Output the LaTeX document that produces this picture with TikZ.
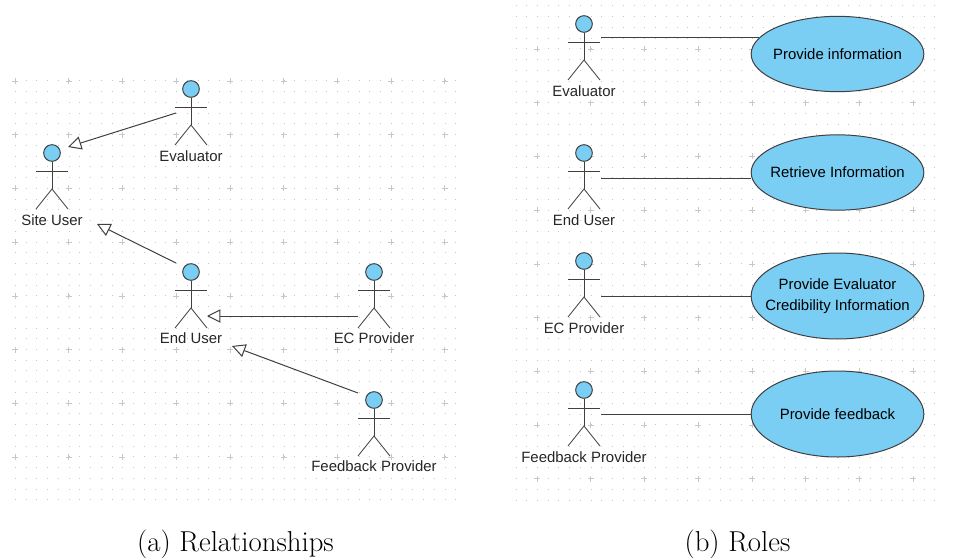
\documentclass[tikz,border=0pt]{standalone}
\usepackage{fontspec}
\setsansfont{Liberation Sans}
\usepackage{tikz}
\usetikzlibrary{positioning, arrows, arrows.meta, shapes.geometric}

\definecolor{fillblue}{HTML}{7ACEF4}
\definecolor{linegray}{HTML}{404040}
\definecolor{gridgray}{HTML}{C8C8C8}

\tikzset{
  gridline/.style={gridgray,line width=0.75pt,dash pattern=on 0.75pt off 7.305pt},
  gridplus/.style={gridgray,line width=0.45pt},
  usecase/.style={draw=linegray,fill=fillblue,ellipse,line width=0.75pt,minimum width=129.5pt,minimum height=64.5pt,inner xsep=-20pt,inner ysep=-10pt,align=center,font=\sffamily\fontsize{11.2}{15.3}\selectfont},
  actorlabel/.style={font=\sffamily\fontsize{11.2}{12}\selectfont,text=black!85},
  gen/.style={-{Triangle[open,fill=white,length=10pt,width=10pt]},linegray,line width=0.75pt},
  assoc/.style={linegray,line width=0.75pt},
  pics/actor/.style={code={
    \node[circle,draw=linegray,fill=fillblue,line width=0.75pt,minimum size=12.5pt,inner sep=0pt] (-head) at (0,0) {};
    \draw[linegray,line width=0.6pt] (-head.south) -- (0,36);
    \draw[linegray,line width=0.6pt] (-16,18) -- (16,18);
    \draw[linegray,line width=0.6pt] (-16,56) -- (0,36) -- (16,56);
  }}
}

\begin{document}
\begin{tikzpicture}[x=0.75pt,y=-0.75pt]
\useasboundingbox (0,0) rectangle (953,560);
% dotted background, left
\foreach \r in {0,...,39}
  \draw[gridline] (15,81+10.74*\r) -- (463,81+10.74*\r);
\foreach \i in {0,...,8}
  \foreach \j in {0,...,7}
    \draw[gridplus] (15+53.7*\i-3,81+53.7*\j) -- ++(6,0) (15+53.7*\i,81+53.7*\j-3) -- ++(0,6);
% dotted background, right
\foreach \r in {0,...,46}
  \draw[gridline] (515.5,6+10.74*\r) -- (945,6+10.74*\r);
\foreach \i in {0,...,7}
  \foreach \j in {0,...,8}
    \draw[gridplus] (537+53.7*\i-3,49+53.7*\j) -- ++(6,0) (537+53.7*\i,49+53.7*\j-3) -- ++(0,6);

% actors, left
\pic (evalL) at (191,89) {actor};
\pic (site) at (52,153) {actor};
\pic (endL) at (191,272) {actor};
\pic (ecL) at (374,272) {actor};
\pic (feedL) at (374,400) {actor};
\node[actorlabel] (evalLtxt) at (191,156) {Evaluator};
\node[actorlabel] (sitetxt) at (52,220) {Site User};
\node[actorlabel] (endLtxt) at (191,338) {End User};
\node[actorlabel] (ecLtxt) at (374,338) {EC Provider};
\node[actorlabel] (feedLtxt) at (374,466) {Feedback Provider};

% generalisations
\coordinate (evalLout) at (176,113);
\coordinate (siteinA) at (68,147);
\coordinate (endLout) at (176,263);
\coordinate (siteinB) at (97,224);
\coordinate (ecLout) at (358,316);
\coordinate (endinA) at (207,316);
\coordinate (feedLout) at (358,393);
\coordinate (endinB) at (232,346);
\draw[gen] (evalLout) -- (siteinA);
\draw[gen] (endLout) -- (siteinB);
\draw[gen] (ecLout) -- (endinA);
\draw[gen] (feedLout) -- (endinB);

% actors, right
\pic (evalR) at (584,24) {actor};
\pic (endR) at (584,153) {actor};
\pic (ecR) at (584,261) {actor};
\pic (feedR) at (584,390) {actor};
\node[actorlabel] (evalRtxt) at (584,91) {Evaluator};
\node[actorlabel] (endRtxt) at (584,220) {End User};
\node[actorlabel] (ecRtxt) at (584,328) {EC Provider};
\node[actorlabel] (feedRtxt) at (584,457) {Feedback Provider};

% use cases
\node[usecase,minimum height=56.5pt] (info) at (837.5,54) {Provide information};
\node[usecase,minimum height=56.5pt] (retrieve) at (837.5,172.5) {Retrieve Information};
\node[usecase] (cred) at (837.5,296) {Provide Evaluator\\Credibility Information};
\node[usecase] (feedback) at (837.5,414) {Provide feedback};

\coordinate (evalRout) at (601,38);
\coordinate (endRout) at (601,178);
\coordinate (ecRout) at (601,296);
\coordinate (feedRout) at (601,414);
\draw[assoc] (evalRout) -- (evalRout -| info.168);
\draw[assoc] (endRout) -- (endRout -| retrieve.west);
\draw[assoc] (ecRout) -- (ecRout -| cred.west);
\draw[assoc] (feedRout) -- (feedRout -| feedback.west);

% captions
\node[font=\fontsize{21.6}{24}\selectfont] (capa) at (235.5,544) {(a) Relationships};
\node[font=\fontsize{21.6}{24}\selectfont] (capb) at (737.5,544) {(b) Roles};
\end{tikzpicture}
\end{document}
